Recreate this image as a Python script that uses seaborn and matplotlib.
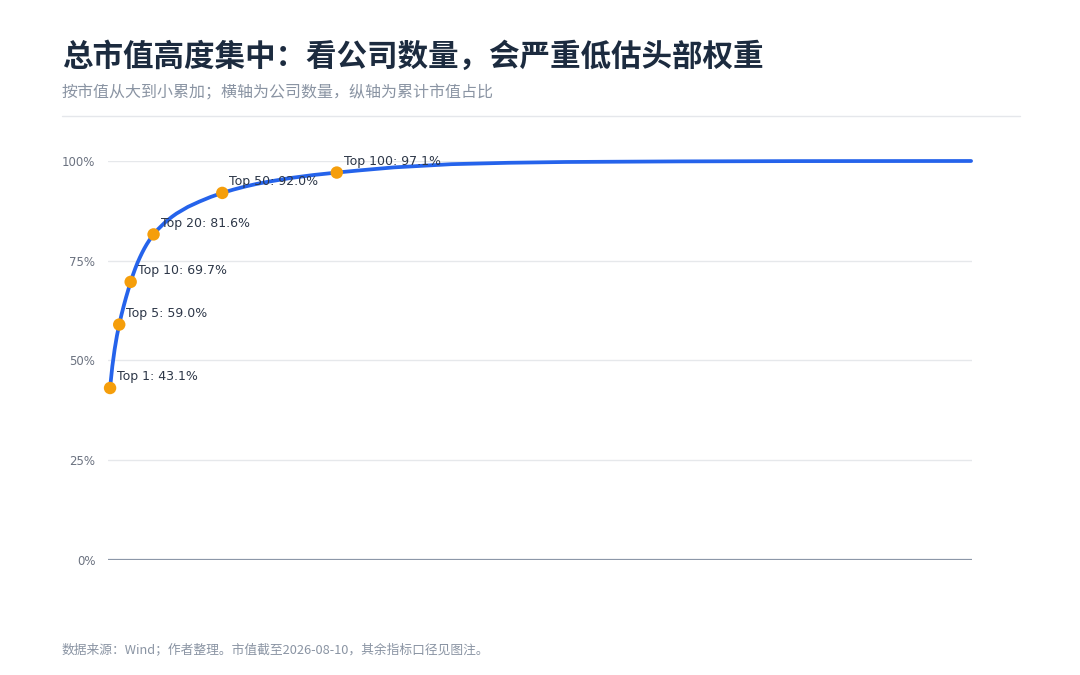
import matplotlib
matplotlib.use("Agg")
import matplotlib.pyplot as plt
import seaborn as sns
import pandas as pd
from matplotlib.lines import Line2D

# ---- data ----
company_counts = [1, 2, 3, 4, 5, 6, 7, 8, 9, 10, 11, 12, 13, 14, 15, 16, 17, 18, 19, 20,
                  22, 25, 28, 30, 35, 40, 45, 50, 55, 60, 65, 70, 80, 90, 100, 110, 125,
                  150, 175, 200, 250, 300, 377]
cum_share = [43.1, 48.6, 52.8, 56.2, 59.0, 61.5, 63.75, 65.85, 67.8, 69.7, 71.45, 73.05,
             74.5, 75.8, 77.0, 78.1, 79.1, 80.0, 80.85, 81.6,
             82.92, 84.61, 86.0, 86.82, 88.5, 89.82, 91.0, 92.0, 92.85, 93.6, 94.25, 94.8,
             95.75, 96.5, 97.1, 97.65, 98.4, 99.2, 99.55, 99.75, 99.9, 99.97, 100.0]
mark_counts = [1, 5, 10, 20, 50, 100]
mark_share = [43.1, 59.0, 69.7, 81.6, 92.0, 97.1]
mark_labels = ["Top 1: 43.1%", "Top 5: 59.0%", "Top 10: 69.7%", "Top 20: 81.6%",
               "Top 50: 92.0%", "Top 100: 97.1%"]
y_ticks = [0, 25, 50, 75, 100]
y_tick_labels = ["0%", "25%", "50%", "75%", "100%"]

title = "总市值高度集中：看公司数量，会严重低估头部权重"
subtitle = "按市值从大到小累加；横轴为公司数量，纵轴为累计市值占比"
footer = "数据来源：Wind；作者整理。市值截至2026-08-10，其余指标口径见图注。"

sns.set_theme(style="white")
plt.rcParams['font.family'] = ['Noto Sans CJK SC', 'DejaVu Sans']

curve = pd.DataFrame({"n": company_counts, "share": cum_share})
marks = pd.DataFrame({"n": mark_counts, "share": mark_share, "label": mark_labels})

fig = plt.figure(figsize=(10.8, 6.75), dpi=100)
ax = fig.add_axes([0.1, 0.1704, 0.8, 0.5911])

for yt in y_ticks[1:]:
    ax.axhline(yt, color="#e6e8eb", lw=1.0, zorder=0)
ax.axhline(0, color="#8c97a8", lw=1.6, zorder=1)

sns.lineplot(data=curve, x="n", y="share", ax=ax, color="#2563eb", lw=2.7,
             zorder=3, clip_on=False, legend=False)
sns.scatterplot(data=marks, x="n", y="share", ax=ax, color="#f59e0b", s=80,
                edgecolor="none", zorder=4, clip_on=False, legend=False)

for _, r in marks.iterrows():
    ax.annotate(r["label"], (r["n"], r["share"]), xytext=(5, 8),
                textcoords="offset points", fontsize=9, color="#2d3748",
                family=["DejaVu Sans"], va="center", ha="left", zorder=5)

ax.set_xlim(0.1, 377.4)
ax.set_ylim(0, 100)
ax.set_yticks(y_ticks)
ax.set_yticklabels(y_tick_labels, fontsize=8.5, color="#6b7280", family=["DejaVu Sans"])
ax.tick_params(axis="y", length=0, pad=9)
ax.set_xticks([])
ax.set_xlabel("")
ax.set_ylabel("")
for s in ax.spines.values():
    s.set_visible(False)

fig.text(62 / 1080, 1 - 57 / 675, title, fontsize=22, fontweight="bold",
         color="#1c2b3f", va="center", ha="left")
fig.text(62 / 1080, 1 - 93 / 675, subtitle, fontsize=11.5, color="#8a94a3",
         va="center", ha="left")
fig.add_artist(Line2D([62 / 1080, 1020 / 1080], [1 - 116 / 675, 1 - 116 / 675],
                      color="#e5e7eb", lw=1.0, transform=fig.transFigure))
fig.text(62 / 1080, 1 - 650 / 675, footer, fontsize=9.2, color="#8a94a3",
         va="center", ha="left")

fig.savefig("out.png", dpi=100, facecolor="white")
